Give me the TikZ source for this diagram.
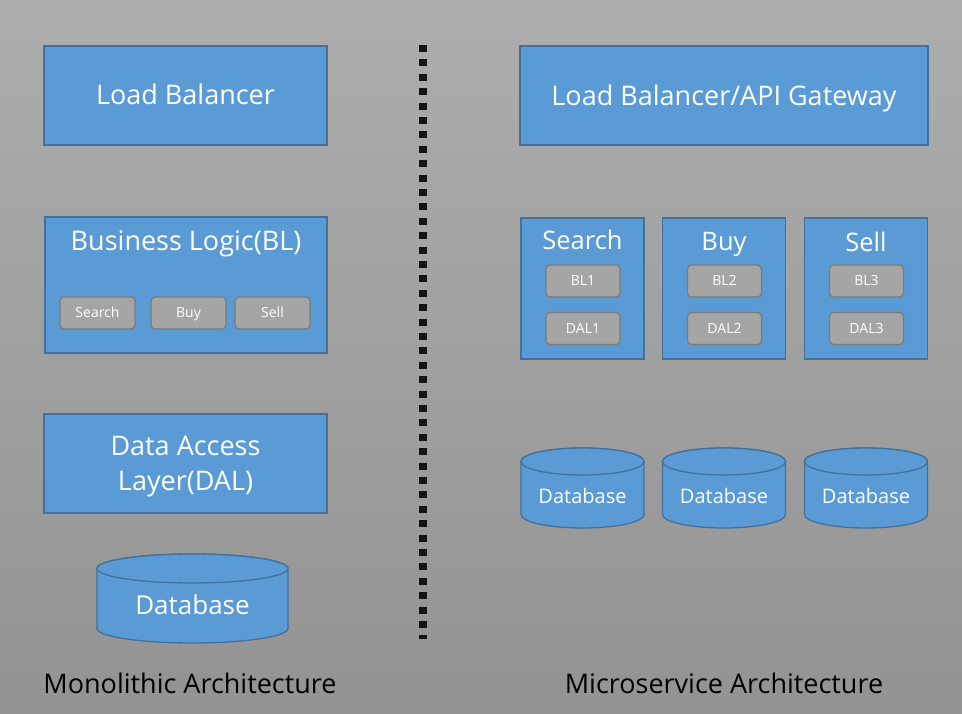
\documentclass[tikz,border=0pt]{standalone}
\usepackage{fontspec}
\setmainfont{Open Sans}
\begin{document}
\begin{tikzpicture}[x=1pt,y=-1pt,
  txt/.style={text=white,inner sep=0pt,font=\fontsize{#1}{#1}\selectfont,text height=\dimexpr #1pt*714/1000\relax,text depth=0pt},
  bluebox/.style={draw=boxline,fill=boxfill,line width=1.3pt,inner sep=0pt},
  graybox/.style={draw=grayline,fill=grayfill,line width=1.3pt,rounded corners=4pt,inner sep=0pt},
  caption/.style={txt=27,text=black},
  dbshape/.style={draw=boxline,fill=boxfill,line width=1.3pt}]
\definecolor{boxfill}{HTML}{5B9BD5}
\definecolor{boxline}{HTML}{41719C}
\definecolor{grayfill}{HTML}{A5A5A5}
\definecolor{grayline}{HTML}{7B7B7B}
\definecolor{bgtop}{HTML}{ADADAD}
\definecolor{bgbot}{HTML}{939393}
\definecolor{dotc}{HTML}{141414}
\shade[top color=bgtop,bottom color=bgbot] (0,0) rectangle (962,714);
\useasboundingbox (0,0) rectangle (962,714);

% divider
\coordinate (divtop) at (423,45);
\coordinate (divbot) at (423,639);
\draw[dotc,line width=7.5pt,dash pattern=on 7pt off 7.4pt] (divtop) -- (divbot);

% ---------- Monolithic ----------
\node[bluebox,minimum width=283pt,minimum height=99pt] (lb) at (185.5,95.5) {};
\node[txt=27] (lbtext) at (185.5,95) {Load Balancer};
\node[bluebox,minimum width=282pt,minimum height=136pt] (bl) at (186,285) {};
\node[txt=27] (bltitle) at (186,241) {Business Logic(BL)};
\node[graybox,minimum width=75pt,minimum height=32pt] (msearch) at (97.5,313) {};
\node[graybox,minimum width=75pt,minimum height=32pt] (mbuy) at (188.5,313) {};
\node[graybox,minimum width=75pt,minimum height=32pt] (msell) at (272.5,313) {};
\node[txt=14] at (msearch) {Search};
\node[txt=14] at (mbuy) {Buy};
\node[txt=14] at (msell) {Sell};
\node[bluebox,minimum width=283pt,minimum height=99pt] (dal) at (185.5,463.5) {};
\node[txt=27] (daltext1) at (185.5,446.3) {Data Access};
\node[txt=27] (daltext2) at (185.5,481.2) {Layer(DAL)};

% monolith database
\draw[dbshape] (97,568.5) -- (97,628.5) arc[start angle=180,end angle=360,x radius=95.5pt,y radius=14.5pt] -- (288,568.5) arc[start angle=0,end angle=180,x radius=95.5pt,y radius=14.5pt] -- cycle;
\draw[dbshape] (192.5,568.5) ellipse[x radius=95.5pt,y radius=14.5pt];
\node[txt=26] (mdb) at (192.5,605.5) {Database};

\node[caption] (mono) at (190,683.7) {Monolithic Architecture};

% ---------- Microservice ----------
\node[bluebox,minimum width=408pt,minimum height=99pt] (gw) at (724,95.5) {};
\node[txt=27] (gwtext) at (724,96) {Load Balancer/API Gateway};

\foreach \cx/\nm/\ttl/\idx/\ty in {582.5/s/Search/1/240.5,724/b/Buy/2/241,866/l/Sell/3/242}{
  \node[bluebox,minimum width=123pt,minimum height=141pt] (svc\nm) at (\cx,288.5) {};
  \node[txt=25.5] (svc\nm title) at (\cx,\ty) {\ttl};
  \node[graybox,minimum width=74pt,minimum height=32pt] (bl\nm) at (\cx+0.5,281) {};
  \node[graybox,minimum width=74pt,minimum height=32pt] (dal\nm) at (\cx+0.5,328.5) {};
  \node[txt=14] at (bl\nm) {BL\idx};
  \node[txt=14] at (dal\nm) {DAL\idx};
  \draw[dbshape] (\cx-61.5,461.5) -- (\cx-61.5,514.5) arc[start angle=180,end angle=360,x radius=61.5pt,y radius=13.5pt] -- (\cx+61.5,461.5) arc[start angle=0,end angle=180,x radius=61.5pt,y radius=13.5pt] -- cycle;
  \draw[dbshape] (\cx,461.5) ellipse[x radius=61.5pt,y radius=13.5pt];
  \node[txt=20] (db\nm) at (\cx,496) {Database};
}

\node[caption] (micro) at (724,684) {Microservice Architecture};
\end{tikzpicture}
\end{document}
